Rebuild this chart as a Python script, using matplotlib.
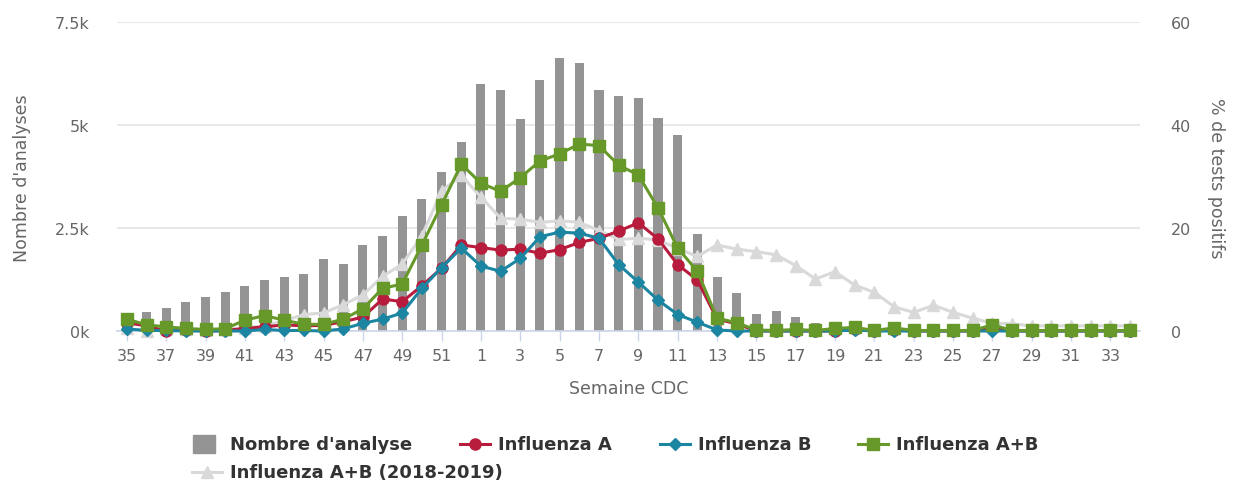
import matplotlib
matplotlib.use("Agg")
import matplotlib.pyplot as plt
from matplotlib.lines import Line2D
from matplotlib.patches import Rectangle

weeks = [35, 36, 37, 38, 39, 40, 41, 42, 43, 44, 45, 46, 47, 48, 49, 50, 51, 52,
         1, 2, 3, 4, 5, 6, 7, 8, 9, 10, 11, 12, 13, 14, 15, 16, 17, 18,
         19, 20, 21, 22, 23, 24, 25, 26, 27, 28, 29, 30, 31, 32, 33, 34]

nb_analyses = [300, 460, 560, 710, 825, 940, 1085, 1230, 1300, 1375, 1750, 1625, 2080, 2305, 2790, 3200, 3870, 4580,
               5990, 5850, 5140, 6100, 6620, 6510, 5850, 5700, 5655, 5170, 4765, 2350, 1300, 920, 405, 480, 330, 190,
               100, 60, 50, 40, 40, 30, 30, 30, 20, 20, 20, 20, 20, 20, 20, 20]

flu_a = [1.6, 1.0, 0.0, 0.2, 0.0, 0.1, 0.5, 0.8, 1.2, 1.0, 1.1, 1.8, 2.7, 6.2, 5.7, 8.8, 12.2, 16.7,
         16.2, 15.7, 15.9, 15.1, 15.8, 17.2, 18.0, 19.4, 21.0, 17.9, 12.9, 9.9, 2.3, 1.4, 0, 0, 0, 0,
         0, 0.3, 0, 0.2, 0, 0, 0, 0, 0.5, 0, 0, 0, 0, 0, 0, 0]

flu_b = [0.4, 0.1, 0.1, 0.0, 0.0, 0.0, 0.0, 0.3, 0.1, 0.1, 0.0, 0.4, 1.5, 2.3, 3.5, 8.3, 12.3, 16.1,
         12.6, 11.6, 14.1, 18.3, 19.2, 19.0, 18.0, 12.9, 9.5, 6.0, 3.2, 1.7, 0.2, 0, 0, 0, 0, 0,
         0, 0.2, 0, 0, 0, 0, 0, 0, 0, 0, 0, 0, 0, 0, 0, 0]

flu_ab = [2.3, 1.2, 0.8, 0.5, 0.3, 0.45, 2.1, 3.0, 2.1, 1.3, 1.3, 2.3, 4.3, 8.3, 9.1, 16.7, 24.5, 32.4,
          28.7, 27.1, 29.8, 33.0, 34.4, 36.3, 36.0, 32.2, 30.3, 23.9, 16.1, 11.6, 2.5, 1.6, 0.2, 0.1, 0.3, 0.1,
          0.5, 0.7, 0.1, 0.6, 0.1, 0.1, 0.1, 0.1, 1.2, 0.1, 0.1, 0.1, 0.1, 0.1, 0.1, 0.1]

flu_ab_prev = [0.5, 0.0, 0.3, 0.3, 0.2, 0.3, 0.6, 1.0, 2.0, 3.2, 3.5, 5.1, 7.0, 10.6, 13.0, 18.5, 27.2, 30.2,
               26.0, 21.9, 21.7, 21.1, 21.4, 21.1, 19.5, 17.8, 18.0, 17.7, 16.0, 14.5, 16.7, 15.9, 15.4, 14.8, 12.7, 10.1,
               11.5, 8.9, 7.5, 4.7, 3.6, 5.0, 3.6, 2.5, 1.5, 1.4, 1.0, 1.0, 1.0, 1.0, 1.0, 1.0]

left_ticks = [0, 2500, 5000, 7500]
left_labels = ["0k", "2.5k", "5k", "7.5k"]
right_ticks = [0, 20, 40, 60]

C_BAR = "#949494"
C_A = "#B81C3D"
C_B = "#1C86A2"
C_AB = "#67992A"
C_PREV = "#D9D9D9"
C_TXT = "#666666"
C_AXIS = "#CCD6EB"

W, H = 1236, 485
fig = plt.figure(figsize=(W / 100, H / 100), dpi=100)
ax_l, ax_r_px, ax_t, ax_b = 117, 1140, 23, 332
ax = fig.add_axes([ax_l / W, 1 - ax_b / H, (ax_r_px - ax_l) / W, (ax_b - ax_t) / H])
ax2 = ax.twinx()

x = list(range(len(weeks)))

ax.bar(x, nb_analyses, width=0.46, color=C_BAR, zorder=2)
ax.set_ylim(0, 7500)
ax.set_xlim(-0.5, len(weeks) - 0.5)
ax.set_yticks(left_ticks)
ax.set_yticklabels(left_labels)
ax.grid(axis="y", color="#E6E6E6", linewidth=1.3, zorder=0)
ax.set_axisbelow(True)
for s in ["top", "right", "left"]:
    ax.spines[s].set_visible(False)
ax.spines["bottom"].set_color(C_AXIS)
ax.spines["bottom"].set_linewidth(1.2)
ax.tick_params(axis="y", length=0, pad=20, labelsize=11.5, labelcolor=C_TXT)
ax.set_xticks(x[::2])
ax.set_xticklabels([str(w) for w in weeks[::2]])
ax.tick_params(axis="x", length=7, width=1, color=C_AXIS, pad=5, labelsize=11.5, labelcolor=C_TXT)

lw = 2.2
ax2.plot(x, flu_ab_prev, color=C_PREV, lw=lw, marker="^", ms=8.5, clip_on=False, zorder=3)
ax2.plot(x, flu_a, color=C_A, lw=lw, marker="o", ms=8, clip_on=False, zorder=4)
ax2.plot(x, flu_b, color=C_B, lw=lw, marker="D", ms=6, clip_on=False, zorder=5)
ax2.plot(x, flu_ab, color=C_AB, lw=lw, marker="s", ms=9, clip_on=False, zorder=6)
ax2.set_ylim(0, 60)
ax2.set_yticks(right_ticks)
ax2.tick_params(axis="y", length=0, pad=22, labelsize=11.5, labelcolor=C_TXT)
for s in ["top", "right", "left", "bottom"]:
    ax2.spines[s].set_visible(False)

ax.set_xlabel("Semaine CDC", fontsize=12.5, color=C_TXT, labelpad=12)
fig.text(22 / W, 1 - 178 / H, "Nombre d'analyses", rotation=90, ha="center", va="center",
         fontsize=12.5, color=C_TXT)
fig.text(1216 / W, 1 - 178 / H, "% de tests positifs", rotation=270, ha="center", va="center",
         fontsize=12.5, color=C_TXT)

# Legend (manual layout)
def fx(px):
    return px / W

def fy(py):
    return 1 - py / H

row1, row2 = 445, 473
fig.add_artist(Rectangle((fx(193), fy(row1 + 9)), 22 / W, 18 / H, transform=fig.transFigure,
                         color=C_BAR))
fig.text(fx(230), fy(row1), "Nombre d'analyse", fontsize=13, fontweight="bold", color="#333333",
         va="center", ha="left")

items = [
    (460, row1, C_A, "o", 8, "Influenza A"),
    (660, row1, C_B, "D", 6, "Influenza B"),
    (858, row1, C_AB, "s", 9, "Influenza A+B"),
    (192, row2, C_PREV, "^", 8.5, "Influenza A+B (2018-2019)"),
]
for x0, yy, c, m, ms, label in items:
    fig.add_artist(Line2D([fx(x0), fx(x0 + 30)], [fy(yy), fy(yy)], transform=fig.transFigure,
                          color=c, lw=lw))
    fig.add_artist(Line2D([fx(x0 + 15)], [fy(yy)], transform=fig.transFigure, color=c,
                          marker=m, ms=ms, lw=0))
    fig.text(fx(x0 + 38), fy(yy), label, fontsize=13, fontweight="bold", color="#333333",
             va="center", ha="left")

fig.savefig("out.png", dpi=100)
